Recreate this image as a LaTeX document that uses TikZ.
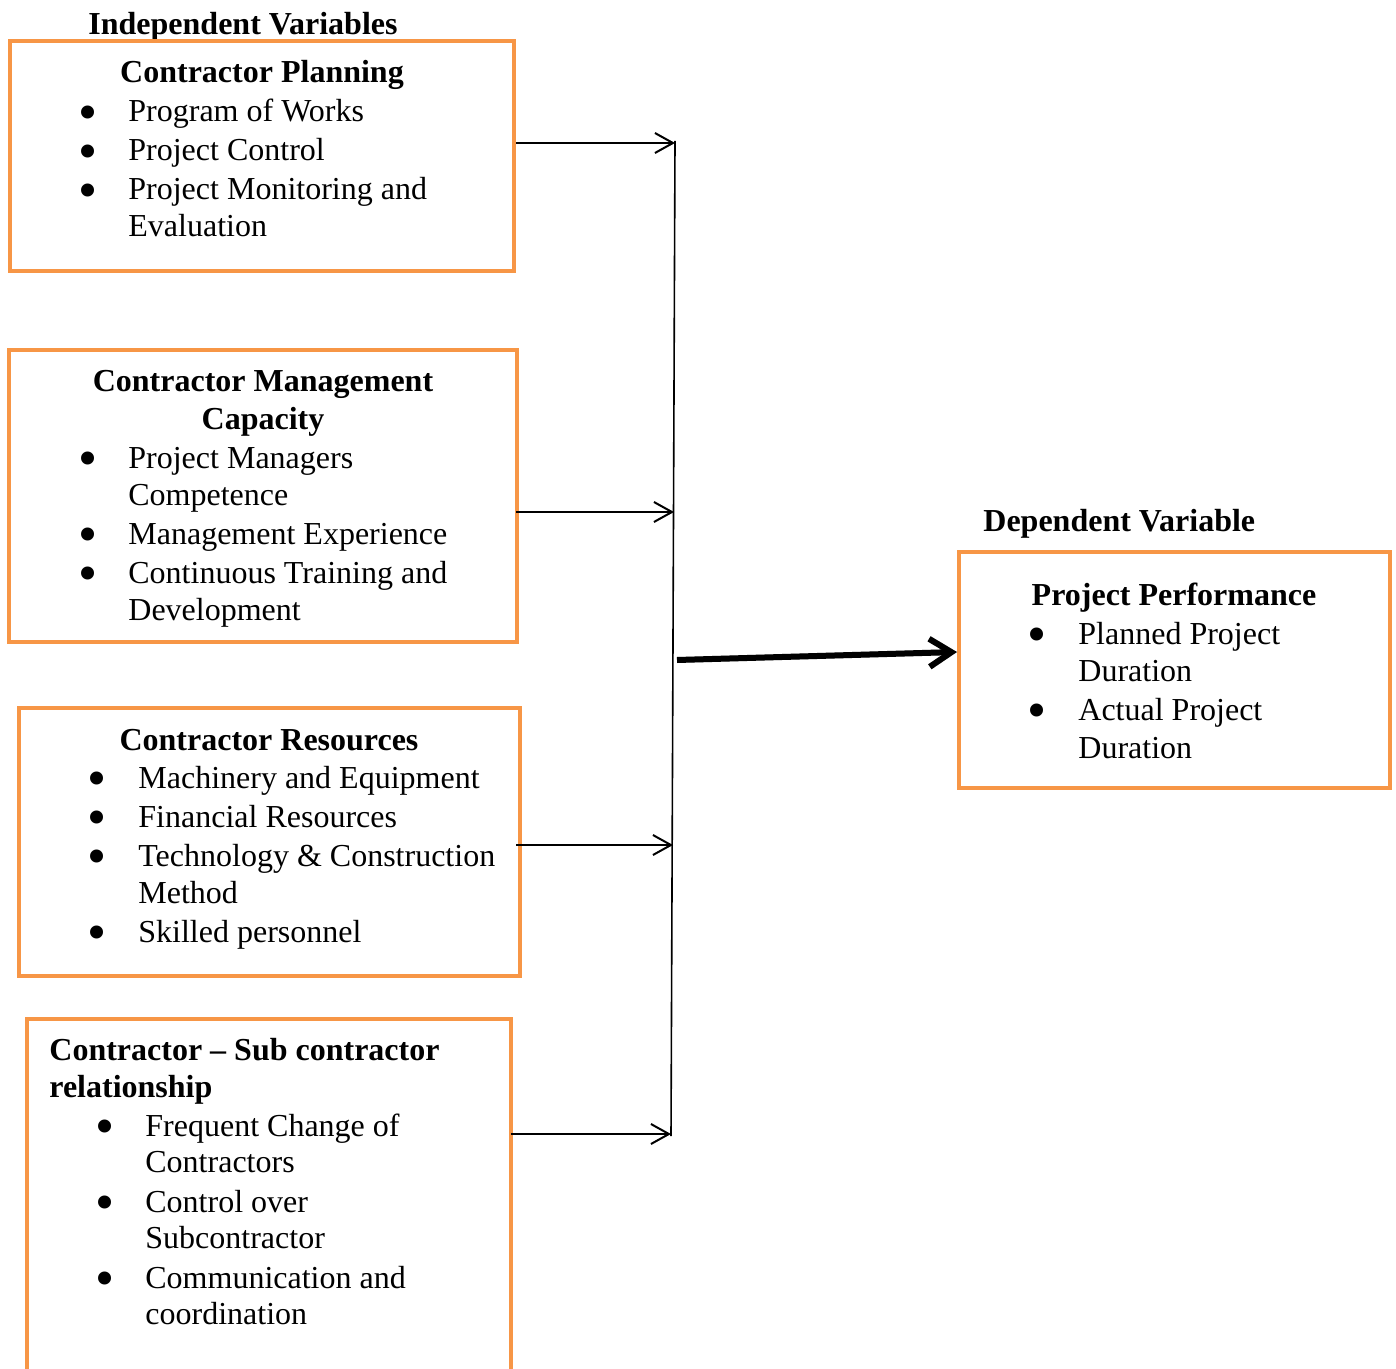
\documentclass[tikz,border=0pt]{standalone}
\usepackage{fontspec}
\usepackage{graphicx}
\setmainfont{Liberation Serif}
\usetikzlibrary{arrows.meta,fit}
\definecolor{orng}{RGB}{247,150,70}
\begin{document}
\begin{tikzpicture}[x=0.5pt,y=-0.5pt,
  box/.style={draw=orng,line width=2pt,inner sep=0pt},
  txt/.style={anchor=base west,inner sep=0pt,font=\fontsize{16}{19}\selectfont},
  ttl/.style={anchor=base,inner sep=0pt,font=\fontsize{16}{19}\selectfont\bfseries},
  ttlw/.style={anchor=base west,inner sep=0pt,font=\fontsize{16}{19}\selectfont\bfseries},
  bul/.style={anchor=base,inner sep=0pt,font=\fontsize{16}{19}\selectfont},
  arr/.style={line width=1pt,-{Straight Barb[length=9pt,width=10pt]}},
  bigarr/.style={line width=3pt,-{Straight Barb[length=11pt,width=14pt]}}]
\useasboundingbox (0,0) rectangle (1396,1369);
\fill[white] (0,0) rectangle (1396,1369);
\newcommand{\bigbul}{\smash{\raisebox{-4.2pt}{\scalebox{1.7}{\textbullet}}}}

% headings
\node[ttl] (indep) at (243,35) {Independent Variables};
\node[ttlw] (dep) at (983,531) {Dependent Variable};

% box 1
\node[box,fit={(10,41) (514,271)}] (b1) {};
\node[ttl] (t1) at (262,83) {Contractor Planning};
\node[bul] (u11) at (88,122) {\bigbul}; \node[txt] (i11) at (128,122) {Program of Works};
\node[bul] (u12) at (88,161) {\bigbul}; \node[txt] (i12) at (128,161) {Project Control};
\node[bul] (u13) at (88,200) {\bigbul}; \node[txt] (i13) at (128,200) {Project Monitoring and};
\node[txt] (i14) at (128,237) {Evaluation};

% box 2
\node[box,fit={(9,350) (517,642)}] (b2) {};
\node[ttl] (t2a) at (263,392) {Contractor Management};
\node[ttl] (t2b) at (263,429) {Capacity};
\node[bul] (u21) at (88,468) {\bigbul}; \node[txt] (i21) at (128,468) {Project Managers};
\node[txt] (i22) at (128,505) {Competence};
\node[bul] (u23) at (88,544) {\bigbul}; \node[txt] (i23) at (128,544) {Management Experience};
\node[bul] (u24) at (88,583) {\bigbul}; \node[txt] (i24) at (128,583) {Continuous Training and};
\node[txt] (i25) at (128,620) {Development};

% box 3
\node[box,fit={(19,708) (520,976)}] (b3) {};
\node[ttl] (t3) at (269,750) {Contractor Resources};
\node[bul] (u31) at (97,788) {\bigbul}; \node[txt] (i31) at (138,788) {Machinery and Equipment};
\node[bul] (u32) at (97,827) {\bigbul}; \node[txt] (i32) at (138,827) {Financial Resources};
\node[bul] (u33) at (97,866) {\bigbul}; \node[txt] (i33) at (138,866) {Technology \& Construction};
\node[txt] (i34) at (138,903) {Method};
\node[bul] (u35) at (97,942) {\bigbul}; \node[txt] (i35) at (138,942) {Skilled personnel};

% box 4 (open at the bottom)
\node[inner sep=0pt,fit={(27,1019) (511,1369)}] (b4) {};
\draw[draw=orng,line width=2pt] (b4.south west) -- (b4.north west) -- (b4.north east) -- (b4.south east);
\node[ttlw] (t4a) at (49,1060) {Contractor – Sub contractor};
\node[ttlw] (t4b) at (49,1097) {relationship};
\node[bul] (u41) at (105,1136) {\bigbul}; \node[txt] (i41) at (145,1136) {Frequent Change of};
\node[txt] (i42) at (145,1172) {Contractors};
\node[bul] (u43) at (105,1212) {\bigbul}; \node[txt] (i43) at (145,1212) {Control over};
\node[txt] (i44) at (145,1248) {Subcontractor};
\node[bul] (u45) at (105,1288) {\bigbul}; \node[txt] (i45) at (145,1288) {Communication and};
\node[txt] (i46) at (145,1324) {coordination};

% box 5
\node[box,fit={(959,552) (1390,788)}] (b5) {};
\node[ttl] (t5) at (1174,605) {Project Performance};
\node[bul] (u51) at (1037,644) {\bigbul}; \node[txt] (i51) at (1078,644) {Planned Project};
\node[txt] (i52) at (1078,681) {Duration};
\node[bul] (u53) at (1037,720) {\bigbul}; \node[txt] (i53) at (1078,720) {Actual Project};
\node[txt] (i54) at (1078,758) {Duration};

% connectors
\coordinate (vtop) at (675,141);
\coordinate (vbot) at (671,1136);
\draw[line width=0.8pt] (vtop) -- (vbot);
\coordinate (a1) at (675,143);
\coordinate (a2) at (674,512);
\coordinate (a3) at (673,845);
\coordinate (a4) at (671,1134);
\draw[arr] (b1.east |- a1) -- (a1);
\draw[arr] ([xshift=-1.5pt]b2.east |- a2) -- (a2);
\draw[arr] ([xshift=-3pt]b3.east |- a3) -- (a3);
\draw[arr] (b4.east |- a4) -- (a4);

\coordinate (m) at (677,660);
\coordinate (e5) at (957,652);
\draw[bigarr,gray!60,opacity=0.5,shift={(2,4)}] (m) -- (e5);
\draw[bigarr] (m) -- (e5);
\end{tikzpicture}
\end{document}
